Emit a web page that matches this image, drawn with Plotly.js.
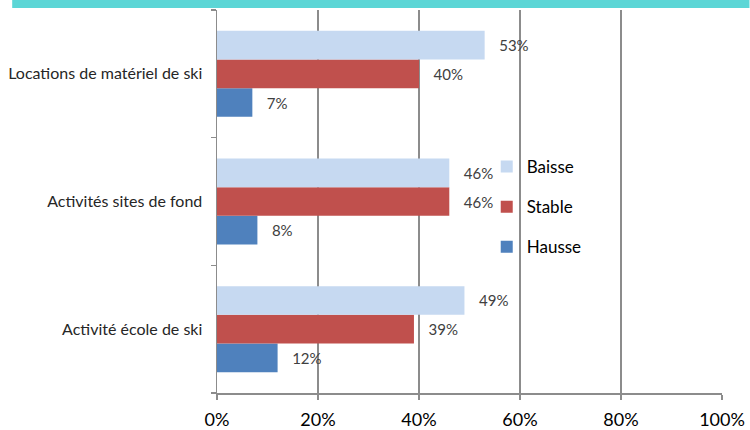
<!DOCTYPE html>
<html>
<head>
<meta charset="utf-8">
<script src="https://cdn.plot.ly/plotly-3.0.1.min.js"></script>
<style>
html,body{margin:0;padding:0;background:#fff;}
#chart{width:750px;height:430px;}
</style>
</head>
<body>
<div id="chart"></div>
<script>
// Categories listed bottom to top
const categories = ['Activité école de ski', 'Activités sites de fond', 'Locations de matériel de ski'];
const hausse = [12, 8, 7];
const stable = [39, 46, 40];
const baisse = [49, 46, 53];
const xTicks = [0, 20, 40, 60, 80, 100];
const xTickLabels = ['0%', '20%', '40%', '60%', '80%', '100%'];

const font = 'Lato, "Open Sans", sans-serif';
function mk(name, vals, color, grp, rank) {
  return {
    type: 'bar', orientation: 'h', name: name,
    x: vals, y: categories,
    marker: {color: color},
    legendgroup: grp,
    legendrank: rank,
    texttemplate: '\u00a0\u00a0\u00a0%{x:.0f}%',
    textposition: 'outside',
    textfont: {family: font, size: 15, color: '#404040'},
    cliponaxis: false,
    hoverinfo: 'skip'
  };
}
const data = [
  mk('Hausse', hausse, '#4F81BD', 'g3', 3),
  mk('Stable', stable, '#C0504D', 'g2', 2),
  mk('Baisse', baisse, '#C6D9F1', 'g1', 1)
];

const L = 217, R = 722.5, T = 10, B = 393;
const pw = R - L, ph = B - T;
const layout = {
  width: 750, height: 430,
  margin: {l: L, r: 750 - R, t: T, b: 430 - B, pad: 0},
  paper_bgcolor: '#ffffff', plot_bgcolor: '#ffffff',
  barmode: 'group', bargap: 0.326, bargroupgap: 0,
  showlegend: true,
  legend: {
    x: (487 - L) / pw, xanchor: 'left',
    y: (B - 207) / ph, yanchor: 'middle',
    traceorder: 'grouped',
    tracegroupgap: 15,
    bgcolor: 'rgba(0,0,0,0)',
    font: {family: font, size: 17, color: '#000000'}
  },
  xaxis: {
    range: [0, 100], tickvals: xTicks, ticktext: xTickLabels,
    showgrid: true, gridcolor: '#8c8c8c', gridwidth: 1.5,
    showline: true, linecolor: '#8c8c8c', linewidth: 1.5,
    ticks: 'outside', ticklen: 5, tickcolor: '#8c8c8c', tickwidth: 1.5,
    ticklabelstandoff: 5,
    tickfont: {family: font, size: 18, color: '#000000'},
    zeroline: false, fixedrange: true
  },
  yaxis: {
    type: 'category', range: [-0.5, 2.5],
    showline: true, linecolor: '#8c8c8c', linewidth: 1.5,
    ticks: 'outside', tickson: 'boundaries', ticklen: 5, tickcolor: '#8c8c8c', tickwidth: 1.5,
    ticklabelstandoff: 10,
    tickfont: {family: font, size: 16, color: '#262626'},
    showgrid: false, zeroline: false, fixedrange: true
  },
  shapes: [{
    type: 'rect', xref: 'paper', yref: 'paper',
    x0: (12 - L) / pw, x1: (750 - L) / pw,
    y0: (B - 8) / ph, y1: (B - 0) / ph,
    fillcolor: '#5CD6D6', line: {width: 0}, layer: 'above'
  }]
};
Plotly.newPlot('chart', data, layout, {displayModeBar: false, staticPlot: true});
</script>
</body>
</html>
